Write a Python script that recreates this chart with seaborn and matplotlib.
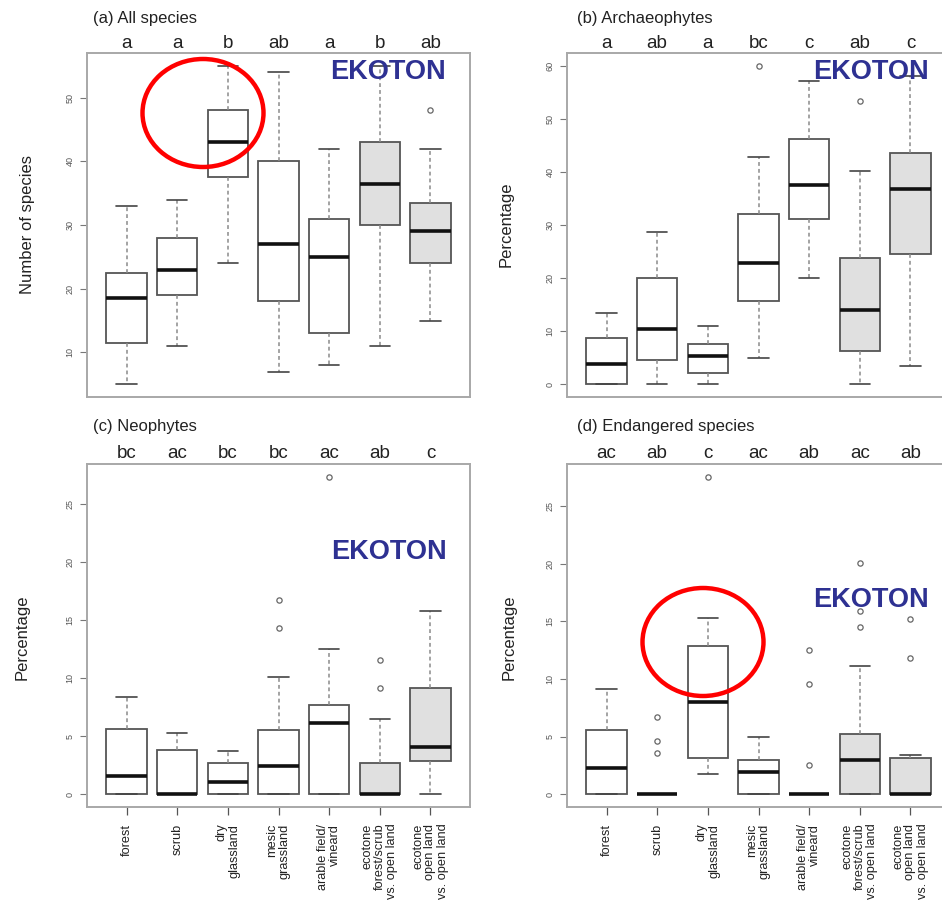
import matplotlib
matplotlib.use("Agg")
import matplotlib.pyplot as plt
from matplotlib.patches import Ellipse
import seaborn as sns

sns.set_theme(style="white")
plt.rcParams['font.family'] = ['Liberation Sans', 'DejaVu Sans']

W, H = 942, 902

categories = ["forest", "scrub", "dry\nglassland", "mesic\ngrassland",
              "arable field/\nvineard", "ecotone\nforest/scrub\nvs. open land",
              "ecotone\nopen land\nvs. open land"]
is_ecotone = [False, False, False, False, False, True, True]

# (a) All species
a_low = [5, 11, 24, 7, 8, 11, 15]
a_q1 = [11.5, 19, 37.5, 18, 13, 30, 24]
a_med = [18.5, 23, 43, 27, 25, 36.5, 29]
a_q3 = [22.5, 28, 48, 40, 31, 43, 33.5]
a_high = [33, 34, 55, 54, 42, 55, 42]
a_out = [[], [], [], [], [], [], [48]]
a_letters = ["a", "a", "b", "ab", "a", "b", "ab"]
a_ticks = [10, 20, 30, 40, 50]

# (b) Archaeophytes
b_low = [0, 0, 0, 4.9, 20, 0, 3.5]
b_q1 = [0, 4.5, 2.1, 15.7, 31.1, 6.3, 24.5]
b_med = [3.8, 10.5, 5.4, 22.8, 37.6, 14, 36.8]
b_q3 = [8.8, 20, 7.5, 32.1, 46.2, 23.8, 43.6]
b_high = [13.4, 28.7, 11, 42.9, 57.2, 40.1, 58]
b_out = [[], [], [], [60], [], [53.3], []]
b_letters = ["a", "ab", "a", "bc", "c", "ab", "c"]
b_ticks = [0, 10, 20, 30, 40, 50, 60]

# (c) Neophytes
c_low = [0, 0, 0, 0, 0, 0, 0]
c_q1 = [0, 0, 0, 0, 0, 0, 2.9]
c_med = [1.6, 0, 1.1, 2.45, 6.1, 0, 4.1]
c_q3 = [5.65, 3.8, 2.7, 5.5, 7.7, 2.7, 9.15]
c_high = [8.35, 5.3, 3.7, 10.1, 12.55, 6.45, 15.8]
c_out = [[], [], [], [14.3, 16.75], [27.35], [9.15, 11.6], []]
c_letters = ["bc", "ac", "bc", "bc", "ac", "ab", "c"]
c_ticks = [0, 5, 10, 15, 20, 25]

# (d) Endangered species
d_low = [0, 0, 1.8, 0, 0, 0, 0]
d_q1 = [0, 0, 3.15, 0, 0, 0, 0]
d_med = [2.25, 0, 8.0, 1.95, 0, 2.95, 0]
d_q3 = [5.6, 0, 12.9, 2.95, 0, 5.2, 3.15]
d_high = [9.15, 0, 15.25, 4.95, 0, 11.1, 3.45]
d_out = [[], [3.6, 4.6, 6.7], [27.55], [], [2.55, 9.55, 12.55], [14.55, 15.9, 20.05], [11.85, 15.2]]
d_letters = ["ac", "ab", "c", "ac", "ab", "ac", "ab"]
d_ticks = [0, 5, 10, 15, 20, 25]

fig = plt.figure(figsize=(W / 100, H / 100), dpi=100)
fig.patch.set_facecolor("white")


def fx(px):
    return px / W


def fy(py):
    return 1 - py / H


panels = [
    dict(rect=(87, 53, 383, 344), title="(a) All species", title_xy=(93, 19),
         ylabel="Number of species", ylabel_xy=(28, 224), ek=(388, 72),
         low=a_low, q1=a_q1, med=a_med, q3=a_q3, high=a_high, out=a_out,
         letters=a_letters, ticks=a_ticks, xlab=False),
    dict(rect=(567, 53, 383, 344), title="(b) Archaeophytes", title_xy=(577, 19),
         ylabel="Percentage", ylabel_xy=(506, 224), ek=(871, 72),
         low=b_low, q1=b_q1, med=b_med, q3=b_q3, high=b_high, out=b_out,
         letters=b_letters, ticks=b_ticks, xlab=False),
    dict(rect=(87, 464, 383, 343), title="(c) Neophytes", title_xy=(93, 427),
         ylabel="Percentage", ylabel_xy=(22, 637), ek=(389, 552),
         low=c_low, q1=c_q1, med=c_med, q3=c_q3, high=c_high, out=c_out,
         letters=c_letters, ticks=c_ticks, xlab=True),
    dict(rect=(567, 464, 383, 343), title="(d) Endangered species", title_xy=(577, 427),
         ylabel="Percentage", ylabel_xy=(509, 637), ek=(871, 600),
         low=d_low, q1=d_q1, med=d_med, q3=d_q3, high=d_high, out=d_out,
         letters=d_letters, ticks=d_ticks, xlab=True),
]

positions = list(range(1, len(categories) + 1))

for p in panels:
    x0, y0, w, h = p["rect"]
    ax = fig.add_axes([fx(x0), fy(y0 + h), w / W, h / H])
    stats = []
    for i in range(len(categories)):
        stats.append(dict(whislo=p["low"][i], q1=p["q1"][i], med=p["med"][i],
                          q3=p["q3"][i], whishi=p["high"][i], fliers=p["out"][i]))
    bp = ax.bxp(stats, positions=positions, widths=0.8, patch_artist=True,
                showfliers=True, capwidths=0.4,
                boxprops=dict(edgecolor="#555555", linewidth=1.3),
                whiskerprops=dict(color="#8a8a8a", linewidth=1.1, linestyle=(0, (2.5, 2))),
                capprops=dict(color="#444444", linewidth=1.2),
                medianprops=dict(color="#111111", linewidth=2.6, solid_capstyle="butt"),
                flierprops=dict(marker="o", markersize=3.8, markerfacecolor="none",
                                markeredgecolor="#666666", markeredgewidth=0.9))
    for box, eco in zip(bp["boxes"], is_ecotone):
        box.set_facecolor("#e0e0e0" if eco else "white")

    allv = p["low"] + p["high"] + [v for o in p["out"] for v in o]
    lo, hi = min(allv), max(allv)
    ext = 0.04 * (hi - lo)
    ax.set_ylim(lo - ext, hi + ext)
    ax.set_xlim(0.22, 7.78)
    ax.set_facecolor("white")
    for s in ax.spines.values():
        s.set_color("#a8a8a8")
        s.set_linewidth(1.4)
    ax.set_yticks(p["ticks"])
    ax.set_yticklabels([str(t) for t in p["ticks"]], rotation=90, va="center",
                       fontsize=6.5, color="#555555")
    ax.tick_params(axis="y", direction="out", length=5, width=0.8, color="#777777",
                   left=True, pad=4)
    ax.set_xticks(positions)
    if p["xlab"]:
        ax.set_xticklabels(categories, rotation=90, fontsize=9.2, color="#222222",
                           ha="center", va="top", multialignment="right",
                           linespacing=1.05)
        ax.tick_params(axis="x", direction="out", length=6, width=0.9,
                       color="#555555", bottom=True, pad=6)
    else:
        ax.set_xticklabels([])
        ax.tick_params(axis="x", length=0)
    ax.grid(False)

    for xpos, let in zip(positions, p["letters"]):
        ax.text(xpos, 1.0 + 10 / h, let, transform=ax.get_xaxis_transform(),
                ha="center", va="center", fontsize=13.5, color="#222222")

    fig.text(fx(p["title_xy"][0]), fy(p["title_xy"][1]), p["title"],
             ha="left", va="center", fontsize=12, color="#222222")
    fig.text(fx(p["ylabel_xy"][0]), fy(p["ylabel_xy"][1]), p["ylabel"],
             rotation=90, ha="center", va="center", fontsize=12, color="#222222")
    fig.text(fx(p["ek"][0]), fy(p["ek"][1]), "EKOTON", ha="center", va="center",
             fontsize=19.5, fontweight="bold", color="#2e3192", zorder=10)

# red highlight ellipses
for cx, cy in [(203, 113), (703, 642)]:
    fig.add_artist(Ellipse((fx(cx), fy(cy)), 121 / W, 108 / H, fill=False,
                           edgecolor="#ff0000", linewidth=3.2,
                           transform=fig.transFigure, zorder=20))

fig.savefig("out.png", dpi=100, facecolor="white")
